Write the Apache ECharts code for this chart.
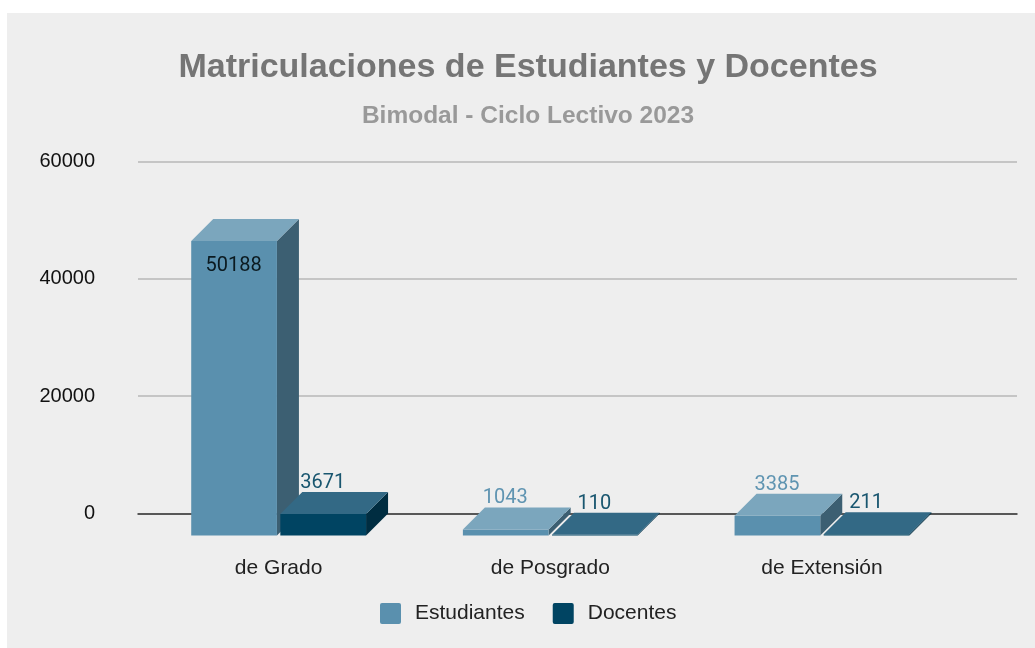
<!DOCTYPE html>
<html>
<head>
<meta charset="utf-8">
<style>html,body{margin:0;padding:0;background:#fff}#c{width:1035px;height:648px}</style>
<script src="https://cdn.jsdelivr.net/npm/echarts@6/dist/echarts.min.js"></script>
</head>
<body>
<div id="c"></div>
<script>
const categories = ['de Grado', 'de Posgrado', 'de Extensión'];
const estudiantes = [50188, 1043, 3385];
const docentes = [3671, 110, 211];
const yMax = 60000;
const yStep = 20000;

const DEPTH = 22;
const BAR_FRACTION = 0.3155;
const GAP = 1.7;

function box(faces, labelColor, side) {
  return function (params, api) {
    const cat = api.value(0), val = api.value(1);
    const band = api.size([1, 0])[0];
    const w = band * BAR_FRACTION;
    const c = api.coord([cat, val]);
    const b = api.coord([cat, 0]);
    const x0 = side < 0 ? c[0] - GAP - w : c[0] + GAP;
    const x1 = x0 + w;
    const topF = c[1] + DEPTH, botF = b[1] + DEPTH;
    const poly = (pts, fill) => ({ type: 'polygon', shape: { points: pts }, style: { fill: fill }, silent: true });
    const inside = val > yMax / 2;
    return {
      type: 'group',
      children: [
        poly([[x1, topF], [x1 + DEPTH, c[1]], [x1 + DEPTH, b[1]], [x1, botF]], faces.side),
        poly([[x0, botF], [x0, topF], [x1, topF], [x1, botF]], faces.front),
        poly([[x0, topF], [x0 + DEPTH, c[1]], [x1 + DEPTH, c[1]], [x1, topF]], faces.top),
        {
          type: 'text',
          style: {
            text: String(val),
            x: (x0 + x1) / 2 - 0.5,
            y: inside ? topF + 25 : topF - 31,
            align: 'center',
            verticalAlign: 'middle',
            fill: inside ? '#0b1a20' : labelColor,
            font: '20px Roboto'
          },
          z2: 10
        }
      ]
    };
  };
}

const legendIcon = 'path://M2,0H19A2,2 0 0 1 21,2V19A2,2 0 0 1 19,21H2A2,2 0 0 1 0,19V2A2,2 0 0 1 2,0Z';

const option = {
  animation: false,
  backgroundColor: '#ffffff',
  graphic: [{
    type: 'rect', z: -10, silent: true,
    shape: { x: 7, y: 13, width: 1028, height: 635 },
    style: { fill: '#eeeeee' }
  }],
  title: [
    { text: 'Matriculaciones de Estudiantes y Docentes', left: 523, top: 46, textAlign: 'center',
      textStyle: { color: '#757575', fontFamily: 'Liberation Sans', fontWeight: 'bold', fontSize: 34 } },
    { text: 'Bimodal - Ciclo Lectivo 2023', left: 523, top: 99, textAlign: 'center',
      textStyle: { color: '#999999', fontFamily: 'Liberation Sans', fontWeight: 'bold', fontSize: 24.5 } }
  ],
  legend: {
    left: 375, top: 598, itemWidth: 21, itemHeight: 21, itemGap: 28, icon: legendIcon,
    data: ['Estudiantes', 'Docentes'],
    textStyle: { color: '#222222', fontFamily: 'Liberation Sans', fontSize: 21, padding: [0, 0, 0, 9] }
  },
  grid: [
    { left: 138, right: 18, top: 161.5, height: 352 },
    { left: 142.8, width: 815, top: 161.5, height: 352 }
  ],
  xAxis: [
    { type: 'category', gridIndex: 0, data: categories, axisLabel: { show: false }, axisTick: { show: false },
      axisLine: { lineStyle: { color: '#333333', width: 1.5 } } },
    { type: 'category', gridIndex: 1, data: categories, axisLine: { show: false }, axisTick: { show: false },
      axisLabel: { margin: 44, color: '#222222', fontFamily: 'Liberation Sans', fontSize: 21 } }
  ],
  yAxis: [
    { type: 'value', gridIndex: 0, min: 0, max: yMax, interval: yStep,
      axisLine: { show: false }, axisTick: { show: false },
      axisLabel: { margin: 43, color: '#111111', fontFamily: 'Liberation Sans', fontSize: 20, formatter: v => String(v) },
      splitLine: { lineStyle: { color: '#b7b7b7', width: 1.5 } } },
    { type: 'value', gridIndex: 1, show: false, min: 0, max: yMax, interval: yStep, splitLine: { show: false } }
  ],
  series: [
    { name: 'Estudiantes', type: 'custom', xAxisIndex: 1, yAxisIndex: 1, clip: false,
      itemStyle: { color: '#5a90ae' },
      renderItem: box({ front: '#5a90ae', top: '#7ba6bd', side: '#3c5f72' }, '#5f94b1', -1),
      data: estudiantes.map((v, i) => [i, v]) },
    { name: 'Docentes', type: 'custom', xAxisIndex: 1, yAxisIndex: 1, clip: false,
      itemStyle: { color: '#004462' },
      renderItem: box({ front: '#004462', top: '#336985', side: '#002d41' }, '#19566f', 1),
      data: docentes.map((v, i) => [i, v]) }
  ]
};
echarts.init(document.getElementById('c'), null, { renderer: 'canvas' }).setOption(option);
</script>
</body>
</html>
